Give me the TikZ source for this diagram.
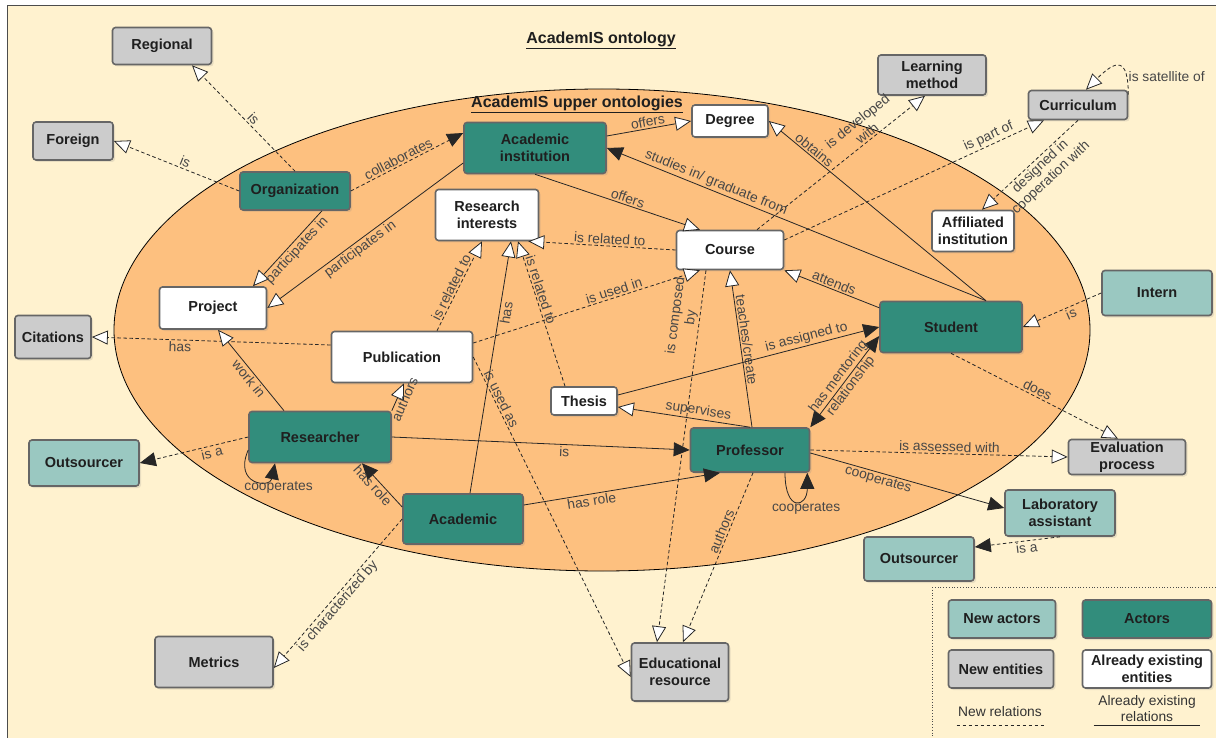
\documentclass[tikz,border=0pt]{standalone}
\usepackage{fontspec}
\setmainfont{Liberation Sans}
\usepackage{tikz}
\usetikzlibrary{arrows.meta}
\usetikzlibrary{shadows}
\usepackage{xcolor}

\definecolor{creambg}{HTML}{FFF2CF}
\definecolor{upperorange}{HTML}{FDC07F}
\definecolor{actorteal}{HTML}{328D7C}
\definecolor{newactorteal}{HTML}{9AC8C1}
\definecolor{entitygray}{HTML}{CCCCCC}
\definecolor{boxline}{HTML}{666666}

\tikzset{
  box/.style={draw=boxline, line width=1.6pt, rounded corners=3pt, align=center,
    inner sep=2pt, text=black!88, font=\bfseries\fontsize{14.5}{17.5}\selectfont,
    drop shadow={shadow xshift=2pt, shadow yshift=-2pt, opacity=0.18}},
  actor/.style={box, fill=actorteal},
  newactor/.style={box, fill=newactorteal},
  newentity/.style={box, fill=entitygray},
  oldentity/.style={box, fill=white},
  rel/.style={line width=0.8pt, draw=black!85},
  newrel/.style={rel, dash pattern=on 3.5pt off 2.5pt},
  opentip/.style={-{Triangle[fill=white, length=16pt, width=14pt, line width=0.8pt]}},
  fulltip/.style={-{Triangle[length=16pt, width=14pt]}},
  bothtips/.style={{Triangle[length=16pt, width=14pt]}-{Triangle[length=16pt, width=14pt]}},
  lbl/.style={font=\fontsize{13.8}{15.5}\selectfont, text=black!72, inner sep=1.5pt, align=center},
}

\begin{document}
\begin{tikzpicture}[x=1pt, y=-1pt]
\useasboundingbox (0,0) rectangle (1216,738);

% background
{
\draw[fill=creambg, draw=black!70, line width=1pt] (7,6) rectangle (1230,750);
\draw[fill=upperorange, draw=black, line width=0.8pt] (602,330) ellipse [x radius=488pt, y radius=241pt];
\draw[black!70, dotted, line width=0.8pt] (932,587) rectangle (1230,750);
}

% titles
\node[font=\bfseries\fontsize{16}{18}\selectfont, text=black!88] (title) at (601,40) {\underline{AcademIS ontology}};
\node[font=\bfseries\fontsize{16}{18}\selectfont, text=black!88] (uppertitle) at (577,104) {\underline{AcademIS upper ontologies}};

% actors
{
\node[actor] (org) at (295,191) [minimum width=110pt, minimum height=38pt] {Organization};
\node[actor] (ains) at (535,148) [minimum width=142pt, minimum height=51pt] {Academic\\institution};
\node[actor] (stu) at (951,327) [minimum width=142pt, minimum height=51pt] {Student};
\node[actor] (res) at (320,437) [minimum width=142pt, minimum height=51pt] {Researcher};
\node[actor] (prof) at (750,450) [minimum width=119pt, minimum height=44pt] {Professor};
\node[actor] (acad) at (463,519) [minimum width=120pt, minimum height=50pt] {Academic};

\node[newactor] (int) at (1157,293) [minimum width=110pt, minimum height=45pt] {Intern};
\node[newactor] (outl) at (84,463) [minimum width=110pt, minimum height=46pt] {Outsourcer};
\node[newactor] (lab) at (1060,513) [minimum width=110pt, minimum height=46pt] {Laboratory\\assistant};
\node[newactor] (outr) at (919,559) [minimum width=110pt, minimum height=44pt] {Outsourcer};
}

% entities
{
\node[newentity] (reg) at (162,46) [minimum width=99pt, minimum height=37pt] {Regional};
\node[newentity] (for) at (73,141) [minimum width=80pt, minimum height=38pt] {Foreign};
\node[newentity] (lmet) at (932,75) [minimum width=108pt, minimum height=40pt] {Learning\\method};
\node[newentity] (cur) at (1078,105) [minimum width=99pt, minimum height=29pt] {Curriculum};
\node[newentity] (cit) at (53,337) [minimum width=76pt, minimum height=43pt] {Citations};
\node[newentity] (eval) at (1127,457) [minimum width=117pt, minimum height=34pt] {Evaluation\\process};
\node[newentity] (met) at (214,662) [minimum width=118pt, minimum height=51pt] {Metrics};
\node[newentity] (edu) at (680,672) [minimum width=97pt, minimum height=58pt] {Educational\\resource};

\node[oldentity] (deg) at (730,121) [minimum width=76pt, minimum height=32pt] {Degree};
\node[oldentity] (rint) at (487,215) [minimum width=103pt, minimum height=51pt] {Research\\interests};
\node[oldentity] (crs) at (730,250) [minimum width=107pt, minimum height=39pt] {Course};
\node[oldentity] (aff) at (973,231) [minimum width=82pt, minimum height=41pt] {Affiliated\\institution};
\node[oldentity] (prj) at (213,308) [minimum width=107pt, minimum height=42pt] {Project};
\node[oldentity] (pub) at (402,357) [minimum width=141pt, minimum height=51pt] {Publication};
\node[oldentity] (ths) at (584,401) [minimum width=66pt, minimum height=28pt] {Thesis};
}

% relations
{
\draw[newrel, opentip] (org.north) -- node[lbl, sloped, above, pos=0.45] {is} ([xshift=30pt]reg.south);
\draw[newrel, opentip] (org.west) -- node[lbl, sloped, above, pos=0.45] {is} (for.east);
\draw[newrel, fulltip] (org.east) -- node[lbl, sloped, above, pos=0.45] {collaborates} ([yshift=15pt]ains.west);
\draw[rel, opentip] ([xshift=27pt]org.south) -- node[lbl, sloped, below, pos=0.45] {participates in} ([xshift=40pt]prj.north);
\draw[rel, opentip] ([yshift=-15pt]ains.west) -- node[lbl, sloped, below, pos=0.55] {participates in} (prj.east);

\draw[rel, opentip] ([yshift=12pt]ains.east) -- node[lbl, sloped, above] {offers} (deg.west);
\draw[rel, opentip] (ains.south) -- node[lbl, sloped, above, pos=0.55] {offers} ([xshift=-30pt]crs.north);
\draw[rel, fulltip] ([xshift=35pt]stu.north) -- node[lbl, sloped, above, pos=0.72] {studies in/ graduate from} (ains.east);
\draw[rel, opentip] ([xshift=35pt]stu.north) -- node[lbl, sloped, above, pos=0.81] {obtains} (deg.east);
\draw[rel, opentip] (stu.165) -- node[lbl, sloped, above, pos=0.5] {attends} (crs.south east);

\draw[newrel, opentip] ([xshift=27pt]crs.north) -- node[lbl, sloped, above, pos=0.68] {is developed\\with} ([xshift=-7pt]lmet.south);
\draw[newrel, opentip] ([yshift=10pt]crs.east) -- node[lbl, sloped, above, pos=0.8] {is part of} ([xshift=-34pt]cur.south);
\draw[newrel, opentip] (cur.south) -- node[lbl, sloped, below, pos=0.45] {designed in\\cooperation with} ([xshift=9pt]aff.north);
\draw[newrel, opentip] ([yshift=-5pt]cur.north east) .. controls +(0,-38) and +(30,-30) .. node[lbl, pos=0.2, right] {is satellite of} ([xshift=8pt]cur.north);

\draw[newrel, opentip] (crs.west) -- node[lbl, sloped, above, pos=0.45] {is related to} ([xshift=-11pt]rint.south east);
\draw[newrel, opentip] ([xshift=35pt]pub.north) -- node[lbl, sloped, above, pos=0.45] {is related to} ([xshift=-5pt]rint.south);
\draw[rel, opentip] ([xshift=7pt]acad.north) -- node[lbl, sloped, below, pos=0.72] {has} ([xshift=24pt]rint.south);
\draw[newrel, opentip] ([xshift=-19pt]ths.north) -- node[lbl, sloped, above, pos=0.65] {is related to} ([xshift=31pt]rint.south);
\draw[newrel, opentip] ([yshift=14pt]pub.east) -- node[lbl, sloped, above, pos=0.63] {is used in} ([xshift=-30pt]crs.south);
\draw[newrel, opentip] ([yshift=12pt]pub.west) -- node[lbl, sloped, below, pos=0.63] {has} (cit.east);

\draw[rel, opentip] ([xshift=-36pt]res.north) -- node[lbl, sloped, below, pos=0.45] {work in} ([xshift=5pt]prj.south);
\draw[rel, opentip] (res.north east) -- node[lbl, sloped, below, pos=0.45, xshift=2pt] {authors} ([xshift=2pt]pub.south);
\draw[newrel, fulltip] (res.west) -- node[lbl, sloped, below, pos=0.35] {is a} (outl.east);
\draw[rel, fulltip] ([yshift=-13pt]res.west) .. controls +(-15,35) and +(-5,25) .. node[lbl, pos=0.55, below, xshift=22pt] {cooperates} ([xshift=-45pt]res.south);
\draw[rel, fulltip] (res.east) -- node[lbl, sloped, below, pos=0.58] {is} (prof.west);

\draw[rel, fulltip] ([yshift=12pt]acad.west) -- node[lbl, sloped, below, pos=0.6] {has role} ([xshift=42pt]res.south);
\draw[rel, fulltip] ([yshift=14pt]acad.east) -- node[lbl, sloped, below, pos=0.34] {has role} ([xshift=-30pt]prof.south);
\draw[newrel, opentip] (acad.west) -- node[lbl, sloped, below, pos=0.55] {is characterized by} ([yshift=-6pt]met.east);
\draw[newrel, opentip] (pub.east) -- node[lbl, sloped, above, pos=0.14] {is used as} ([yshift=-5pt]edu.west);
\draw[newrel, opentip] ([xshift=-24pt]crs.south) -- node[lbl, sloped, above, pos=0.13] {is composed\\by} ([xshift=-23pt]edu.north);
\draw[newrel, opentip] ([xshift=3pt]prof.south) -- node[lbl, sloped, above, pos=0.36] {authors} ([xshift=3pt]edu.north);

\draw[rel, opentip] ([xshift=2pt]prof.north) -- node[lbl, sloped, above, pos=0.55] {teaches/create} (crs.south);
\draw[rel, opentip] (prof.north) -- node[lbl, sloped, above, pos=0.4] {supervises} ([yshift=-6pt]ths.east);
\draw[rel, fulltip] ([yshift=6pt]ths.east) -- node[lbl, sloped, above, pos=0.73] {is assigned to} (stu.west);
\draw[rel, bothtips] (prof.north east) -- node[lbl, sloped] {has mentoring\\relationship} ([yshift=-9pt]stu.west);
\draw[rel, fulltip] ([xshift=35pt]prof.south) .. controls +(0,40) and +(0,35) .. node[lbl, pos=0.5, below, xshift=10pt] {cooperates} ([xshift=-3pt]prof.south east);
\draw[newrel, opentip] (prof.east) -- node[lbl, sloped, above, pos=0.54] {is assessed with} (eval.west);
\draw[rel, fulltip] ([yshift=-3pt]prof.east) -- node[lbl, sloped, below, pos=0.36] {cooperates} ([yshift=5pt]lab.west);

\draw[newrel, opentip] (stu.south) -- node[lbl, sloped, above, pos=0.5] {does} ([xshift=-9pt]eval.north);
\draw[newrel, opentip] (int.west) -- node[lbl, sloped, below, pos=0.42] {is} (stu.east);
\draw[newrel, fulltip] (lab.south) -- node[lbl, sloped, below, pos=0.4] {is a} ([yshift=12pt]outr.east);
}

% legend
{
\node[newactor] (lnewact) at (1002,619) [minimum width=107pt, minimum height=38pt] {New actors};
\node[actor] (lact) at (1147,619) [minimum width=129pt, minimum height=38pt] {Actors};
\node[newentity] (lnewent) at (1001,669) [minimum width=105pt, minimum height=38pt] {New entities};
\node[oldentity] (loldent) at (1147,669) [minimum width=129pt, minimum height=38pt] {Already existing\\entities};

\node[lbl, text=black!80] (lnewrel) at (1000,712) {New relations};
\node[lbl, text=black!80, font=\fontsize{13.8}{16}\selectfont] (loldrel) at (1147,709) {Already existing\\relations};
\draw[newrel] ([yshift=-7pt]lnewrel.south west) -- ([yshift=-7pt]lnewrel.south east);
\draw[rel] ([yshift=-2pt, xshift=-3pt]loldrel.south west) -- ([yshift=-2pt, xshift=3pt]loldrel.south east);
}

\end{tikzpicture}
\end{document}
